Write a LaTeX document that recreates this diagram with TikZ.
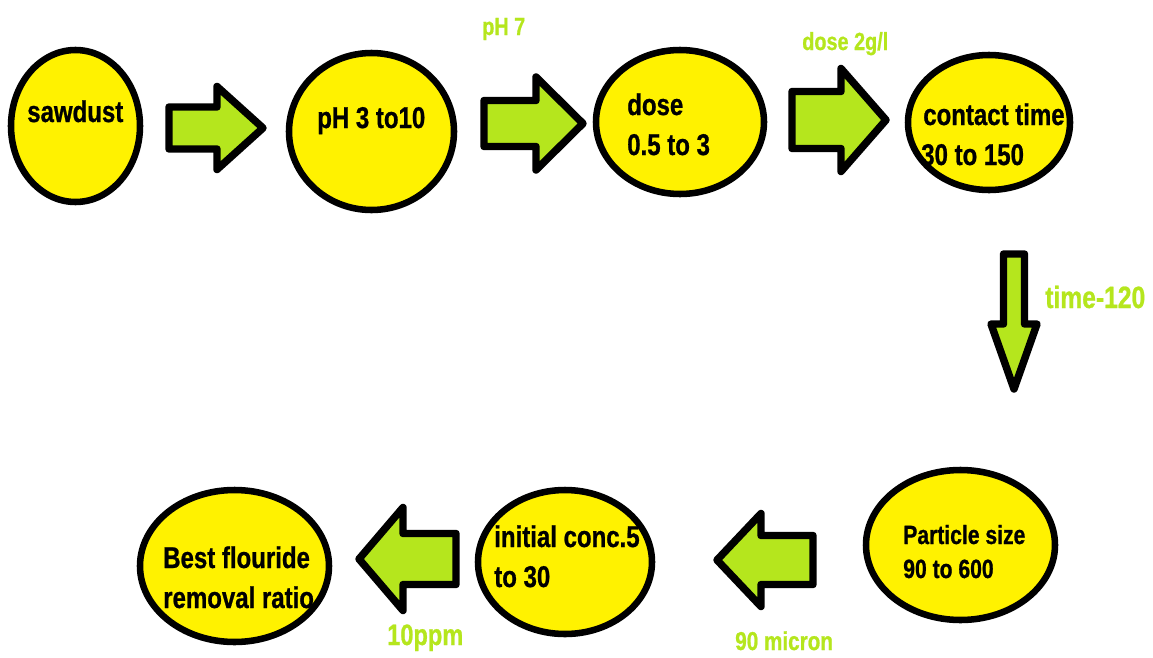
\documentclass[tikz,border=0pt]{standalone}
\usepackage{fontspec}
\setmainfont{Liberation Sans}[FakeStretch=0.8,BoldFeatures={FakeBold=0.8}]
\definecolor{ylw}{RGB}{255,242,0}
\definecolor{lime}{RGB}{181,230,29}
\newcommand\bubble[6]{%
  \coordinate (#1) at (#2,#3);
  \fill[ylw] (#1) ellipse [x radius=#4, y radius=#5];
  \begin{scope}\clip (#1) ellipse [x radius=#4, y radius=#5];#6\end{scope}
  \draw[rim] (#1) ellipse [x radius=#4, y radius=#5];}
\newcommand\harrow[6]{% x0 x1 x2 yc bh hh
  \draw[blk] (#1,#4-#5) -- (#2,#4-#5) -- (#2,#4-#6) -- (#3,#4) -- (#2,#4+#6) -- (#2,#4+#5) -- (#1,#4+#5) -- cycle;}
\newcommand\varrow[6]{% y0 y1 y2 xc bh hh
  \draw[blk] (#4-#5,#1) -- (#4-#5,#2) -- (#4-#6,#2) -- (#4,#3) -- (#4+#6,#2) -- (#4+#5,#2) -- (#4+#5,#1) -- cycle;}
\begin{document}
\begin{tikzpicture}[x=0.75pt,y=-0.75pt,
  rim/.style={draw=black,line width=4.9pt},
  blk/.style={draw=black,fill=lime,line width=5.6pt,line join=round},
  txt/.style={anchor=base west,inner sep=0pt,font=\fontsize{22.5}{25}\selectfont\bfseries,text=black},
  stxt/.style={txt,font=\fontsize{19.8}{22}\selectfont\bfseries},
  lbl/.style={anchor=base west,inner sep=0pt,text=lime}]
\fill[white] (0,0) rectangle (1153,657);
\useasboundingbox (0,0) rectangle (1153,657);
% bubbles
\bubble{b1}{75.5}{126}{64.5}{76}{\node[txt] (t1) at (27,122) {sawdust};}
\bubble{b2}{371.5}{131.5}{82.5}{78.5}{\node[txt] (t2) at (317,128) {pH 3 to10};}
\bubble{b3}{680}{122}{84}{72}{\node[txt] (t3a) at (627,115) {dose};\node[txt] (t3b) at (627,155) {0.5 to 3};}
\bubble{b4}{989}{122.5}{81}{67.5}{\node[txt] (t4a) at (923,125) {contact time};\node[txt] (t4b) at (921,165) {30 to 150};}
\bubble{b5}{960.5}{545}{94.5}{75}{\node[stxt] (t5a) at (903,544) {Particle size};\node[stxt] (t5b) at (903,578) {90 to 600};}
\bubble{b6}{565}{562}{87}{72}{\node[txt] (t6a) at (494,547) {initial conc.5};\node[txt] (t6b) at (494,587) {to 30};}
\bubble{b7}{234.5}{566}{94.5}{76}{\node[txt] (t7a) at (163,568) {Best flouride};\node[txt] (t7b) at (163,608) {removal ratio};}
% block arrows
\harrow{169}{217}{263}{128}{21}{41.5}
\harrow{484}{536}{583}{123.5}{23}{46.5}
\harrow{792}{841}{886}{120}{28.5}{51.5}
\varrow{254}{324}{389}{1014}{10.5}{23}
\harrow{813}{761}{717}{560}{24.5}{46.5}
\harrow{456}{403}{359}{559}{25.5}{51.5}
% labels
\node[lbl,font=\fontsize{18.6}{21}\selectfont\bfseries] (l1) at (482,35) {pH 7};
\node[lbl,font=\fontsize{18.6}{21}\selectfont\bfseries] (l2) at (802,50) {dose 2g/l};
\node[lbl,font=\fontsize{23.1}{26}\selectfont\bfseries] (l3) at (1045,308) {time-120};
\node[lbl,font=\fontsize{19.4}{22}\selectfont\bfseries] (l4) at (735,650) {90 micron};
\node[lbl,font=\fontsize{22.1}{25}\selectfont\bfseries] (l5) at (387,645) {10ppm};
\end{tikzpicture}
\end{document}
